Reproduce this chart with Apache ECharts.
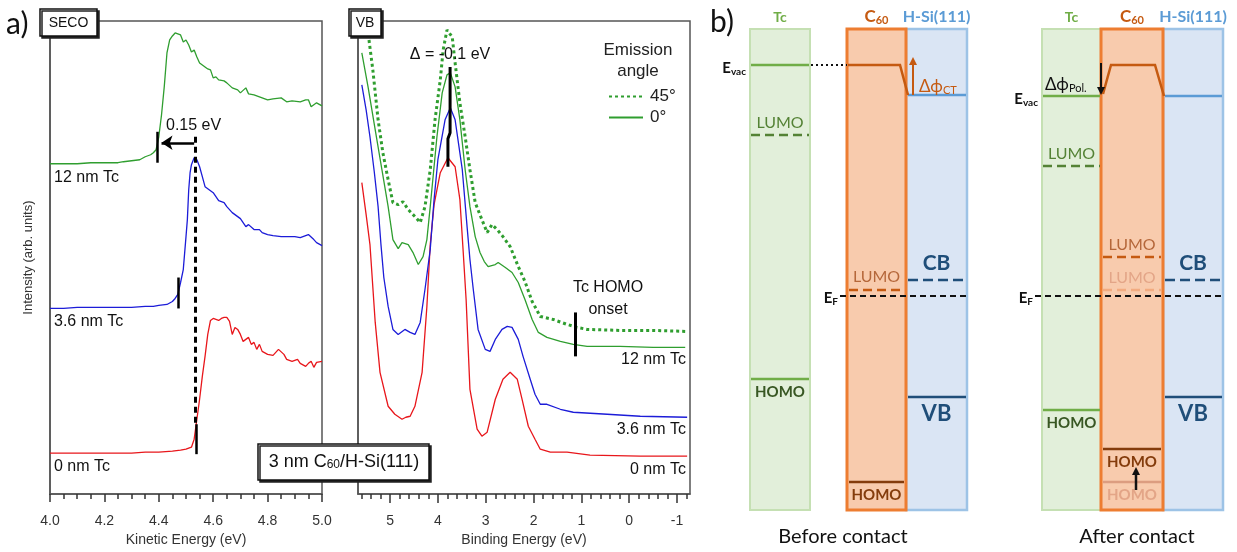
<!DOCTYPE html>
<html><head><meta charset="utf-8">
<script src="https://cdn.jsdelivr.net/npm/echarts@6/dist/echarts.min.js"></script>
<style>html,body{margin:0;padding:0;background:#fff}#c{width:1237px;height:552px}</style>
</head><body><div id="c"></div>
<script>
// ================= Panel a) SECO : [kinetic energy (eV), intensity (arb. units)]
const secoGreen12nm = [[4.00,331],[4.05,331],[4.10,331],[4.15,332],[4.20,332],[4.25,332],[4.27,333],[4.30,334],[4.33,335],[4.35,338],[4.37,340],[4.38,342],[4.39,345],[4.40,358],[4.41,380],[4.42,408],[4.43,442],[4.44,455],[4.45,459],[4.46,462],[4.47,461],[4.48,460],[4.49,453],[4.50,455],[4.51,450],[4.52,443],[4.53,445],[4.54,438],[4.55,432],[4.56,430],[4.57,428],[4.58,426],[4.59,425],[4.60,417],[4.61,418],[4.62,415],[4.64,414],[4.65,412],[4.67,407],[4.69,405],[4.70,402],[4.72,407],[4.73,401],[4.75,400],[4.77,398],[4.80,395],[4.82,396],[4.85,397],[4.87,393],[4.89,394],[4.92,393],[4.94,395],[4.95,395],[4.96,388],[4.98,392],[5.00,389]];
const secoBlue36nm = [[4.00,186],[4.05,186],[4.10,187],[4.15,187],[4.20,187],[4.25,187],[4.30,187],[4.35,188],[4.38,188],[4.40,189],[4.43,190],[4.45,193],[4.46,196],[4.47,200],[4.48,212],[4.49,225],[4.50,258],[4.505,275],[4.51,305],[4.515,322],[4.52,330],[4.53,337],[4.54,335],[4.55,328],[4.56,318],[4.57,308],[4.58,306],[4.60,302],[4.62,294],[4.64,292],[4.65,288],[4.67,282],[4.69,278],[4.70,276],[4.71,272],[4.72,268],[4.73,270],[4.75,265],[4.77,265],[4.78,262],[4.80,260],[4.82,259],[4.85,258],[4.88,258],[4.90,258],[4.92,257],[4.93,258],[4.95,260],[4.97,255],[4.98,252],[5.00,249]];
const secoRed0nm = [[4.00,41],[4.05,41],[4.10,41],[4.15,41],[4.20,41],[4.25,41],[4.30,41],[4.35,42],[4.40,42],[4.45,43],[4.48,44],[4.50,45],[4.52,47],[4.53,55],[4.54,75],[4.55,95],[4.56,118],[4.57,138],[4.58,160],[4.59,174],[4.60,176],[4.61,175],[4.62,174],[4.63,176],[4.64,177],[4.65,177],[4.66,173],[4.67,160],[4.68,167],[4.69,165],[4.70,160],[4.71,153],[4.72,155],[4.73,157],[4.74,150],[4.75,152],[4.76,145],[4.77,150],[4.78,143],[4.80,140],[4.82,139],[4.84,145],[4.86,140],[4.87,135],[4.89,133],[4.91,135],[4.92,131],[4.94,128],[4.95,131],[4.96,133],[4.97,127],[4.98,132],[5.00,133]];
// SECO onset markers (kinetic energy, eV)
const secoOnsetGreen = 4.395, secoOnsetBlue = 4.472, secoOnsetRed = 4.539;

// ================= Panel a) VB : [binding energy (eV), intensity (arb. units)]
const vbRed0nm = [[5.59,312],[5.50,280],[5.42,250],[5.31,172],[5.21,122],[5.04,88],[4.90,80],[4.75,75],[4.67,77],[4.58,78],[4.48,88],[4.33,122],[4.23,188],[4.16,250],[4.08,290],[3.95,322],[3.79,337],[3.64,328],[3.54,295],[3.47,242],[3.41,195],[3.33,105],[3.18,65],[3.08,58],[2.97,62],[2.80,95],[2.64,115],[2.49,122],[2.34,115],[2.24,95],[2.11,68],[1.97,55],[1.86,45],[1.65,42],[1.30,42],[0.82,39],[-0.23,38],[-1.21,38]];
const vbBlue36nm = [[5.59,410],[5.50,385],[5.42,358],[5.33,323],[5.25,288],[5.19,250],[5.13,217],[5.04,188],[4.94,165],[4.83,160],[4.69,165],[4.58,162],[4.48,160],[4.37,172],[4.27,205],[4.16,245],[4.08,295],[4.00,335],[3.85,375],[3.74,387],[3.64,375],[3.49,325],[3.39,268],[3.33,235],[3.26,205],[3.16,165],[3.01,145],[2.91,143],[2.80,155],[2.66,165],[2.55,168],[2.45,167],[2.32,155],[2.22,138],[2.07,115],[1.97,100],[1.86,90],[1.72,90],[1.44,85],[1.17,82],[0.46,80],[-0.23,78],[-1.21,77]];
const vbGreen12nm0deg = [[5.59,442],[5.46,408],[5.31,365],[5.17,325],[5.04,288],[4.94,255],[4.83,246],[4.75,252],[4.62,250],[4.52,242],[4.41,230],[4.31,238],[4.23,255],[4.16,288],[4.02,358],[3.91,402],[3.81,420],[3.74,422],[3.64,408],[3.54,375],[3.43,325],[3.33,288],[3.22,258],[3.12,242],[3.03,233],[2.95,228],[2.80,230],[2.74,232],[2.59,227],[2.45,222],[2.32,212],[2.18,195],[2.03,175],[1.90,162],[1.72,157],[1.44,153],[1.17,150],[0.88,148],[0.19,148],[-0.50,147],[-1.17,147]];
const vbGreen12nm45deg = [[5.44,455],[5.36,425],[5.25,375],[5.15,342],[5.04,315],[4.94,292],[4.83,290],[4.73,293],[4.62,285],[4.48,278],[4.37,272],[4.27,288],[4.16,325],[4.06,375],[3.95,415],[3.89,445],[3.81,465],[3.70,458],[3.64,432],[3.54,392],[3.43,358],[3.33,325],[3.22,292],[3.08,275],[2.97,262],[2.87,270],[2.76,265],[2.64,258],[2.49,248],[2.32,228],[2.18,213],[2.03,193],[1.86,178],[1.59,175],[1.30,170],[1.09,167],[0.88,165],[0.19,164],[-0.50,164],[-1.19,163]];
// peak-shift marker (Δ = -0.1 eV) and Tc HOMO onset
const vbShiftMarker = [[3.745,428],[3.745,362],[3.79,356],[3.79,328]];
const tcHomoOnset = 1.13;

// tick labels
const secoTickLabels = [4.0,4.2,4.4,4.6,4.8,5.0];
const vbTickLabels = [5,4,3,2,1,0,-1];
const vbMinorTicks = [];
for (let k = -12; k <= 56; k += 2) vbMinorTicks.push(k / 10);

// ================= Panel b) energy levels (eV, relative to E_F) : [E_vac, LUMO|CB, HOMO|VB]
const tcBefore  = [4.62, 3.22, -1.66];
const c60Before = [4.62, 0.12, -3.72];
const siBefore  = [4.02, 0.32, -2.02];
const tcAfter   = [4.00, 2.60, -2.28];
const c60After  = [4.62, 0.78, -3.06];
const siAfter   = [4.00, 0.32, -2.02];
const fermiLevel = 0;

// ---------------- layout (not data)
const eTop = 5.34, eBottom = -4.28;
const layoutB = {
  before: {tc:[50,110], c60:[147,206], si:[206,267], ef:140, caption:'Before contact'},
  after:  {tc:[342,401], c60:[401,463], si:[463,523], ef:335, caption:'After contact'}
};
const FA = 'Liberation Sans', FB = 'Lato';
const C = {
  tcFill:'#e2efda', tcStroke:'#c5e0b3', tcLine:'#70ad47', tcDark:'#548235', tcText:'#385723',
  c60Fill:'#f8cbad', c60Stroke:'#ed7d31', c60Line:'#c55a11', c60Dark:'#843c0c', c60Faded:'#e3a587',
  siFill:'#dae5f4', siStroke:'#9dc3e6', siLine:'#5b9bd5', siDark:'#1f4e79'
};

function makeDiagram(which) {
  const L = layoutB[which];
  const tc = which === 'before' ? tcBefore : tcAfter;
  const c6 = which === 'before' ? c60Before : c60After;
  const si = which === 'before' ? siBefore : siAfter;
  return function (params, api) {
    const P = (u, e) => api.coord([u, e]);
    const ch = [];
    const mid = r => (r[0] + r[1]) / 2;
    const rect = (r, fill, stroke, lw) => {
      const a = P(r[0], eTop), b = P(r[1], eBottom);
      ch.push({type:'rect', shape:{x:a[0], y:a[1], width:b[0]-a[0], height:b[1]-a[1]}, style:{fill, stroke, lineWidth:lw}});
    };
    const hline = (u0, u1, e, color, lw, dash) => {
      const a = P(u0, e), b = P(u1, e);
      ch.push({type:'line', shape:{x1:a[0], y1:a[1], x2:b[0], y2:b[1]}, style:{stroke:color, lineWidth:lw, lineDash:dash || null}});
    };
    const poly = (pts, color, lw) => ch.push({type:'polyline', shape:{points:pts.map(p => P(p[0], p[1]))}, style:{stroke:color, lineWidth:lw, fill:null}});
    const text = (u, e, dy, str, font, fill, align, rich) => {
      const a = P(u, e);
      ch.push({type:'text', x:a[0], y:a[1] + dy, style:{text:str, font, fill, align:align || 'center', verticalAlign:'middle', rich}});
    };
    const arrow = (u, e0, e1, color, lw) => {
      const a = P(u, e0), b = P(u, e1);
      const dir = b[1] > a[1] ? 1 : -1;
      ch.push({type:'line', shape:{x1:a[0], y1:a[1], x2:b[0], y2:b[1] - dir * 6}, style:{stroke:color, lineWidth:lw}});
      ch.push({type:'polygon', shape:{points:[[b[0], b[1]], [b[0]-4, b[1]-dir*8], [b[0]+4, b[1]-dir*8]]}, style:{fill:color}});
    };
    // columns
    rect(L.tc, C.tcFill, C.tcStroke, 2);
    rect(L.si, C.siFill, C.siStroke, 2.5);
    rect(L.c60, C.c60Fill, C.c60Stroke, 3);
    // headers
    text(mid(L.tc), eTop, -12, 'Tc', 'bold 14px ' + FB, C.tcLine);
    text(mid(L.c60), eTop, -12, '{a|C}{s|60}', 'bold 17px ' + FB, C.c60Line, 'center',
      {a:{fontSize:17, fontWeight:'bold', fontFamily:FB, fill:C.c60Line}, s:{fontSize:11, fontWeight:'bold', fontFamily:FB, fill:C.c60Line, verticalAlign:'bottom', padding:[6,0,0,0]}});
    text(mid(L.si), eTop, -12, 'H-Si(111)', 'bold 16px ' + FB, C.siLine);
    // Tc levels
    hline(L.tc[0]+1, L.tc[1]-1, tc[0], C.tcLine, 2.5);
    hline(L.tc[0]+1, L.tc[1]-1, tc[1], C.tcDark, 2.5, [9,5]);
    text(mid(L.tc), tc[1], -12, 'LUMO', '16px ' + FB, C.tcDark);
    hline(L.tc[0]+1, L.tc[1]-1, tc[2], C.tcLine, 2.5);
    text(mid(L.tc), tc[2], 13, 'HOMO', 'bold 15px ' + FB, C.tcText);
    // E_vac label
    const evRich = {a:{fontSize:15, fontWeight:'bold', fontFamily:FB, fill:'#111'}, s:{fontSize:10, fontWeight:'bold', fontFamily:FB, fill:'#111', verticalAlign:'bottom', padding:[7,0,0,0]}};
    text(L.tc[0]-4, tc[0], 3, '{a|E}{s|vac}', 'bold 15px ' + FB, '#111', 'right', evRich);
    // Si levels
    hline(L.si[0]+2, L.si[1]-1, si[0], C.siLine, 2.5);
    hline(L.si[0]+2, L.si[1]-1, si[1], C.siDark, 2.5, [10,5]);
    text(mid(L.si), si[1], -17, 'CB', 'bold 21px ' + FB, C.siDark);
    hline(L.si[0]+2, L.si[1]-1, si[2], C.siDark, 2.5);
    text(mid(L.si), si[2], 17, 'VB', 'bold 22px ' + FB, C.siDark);
    // Fermi level
    hline(L.ef, L.si[1]-1, fermiLevel, '#111', 2, [6,4]);
    text(L.ef - 2, fermiLevel, 2, '{a|E}{s|F}', 'bold 15px ' + FB, '#111', 'right', evRich);
    if (which === 'before') {
      hline(L.tc[1]+1, L.c60[0], tc[0], '#111', 2, [2,3]);
      poly([[L.c60[0]+1, c6[0]], [L.c60[1]-6, c6[0]], [L.si[0]+2, si[0]]], C.c60Line, 2.5);
      arrow(L.si[0]+7, si[0], si[0] + 0.76, C.c60Line, 2);
      text(L.si[0]+13, si[0], -8, '{a|Δϕ}{s|CT}', '17px ' + FB, C.c60Line, 'left',
        {a:{fontSize:17, fontFamily:FB, fill:C.c60Line}, s:{fontSize:11, fontFamily:FB, fill:C.c60Line, verticalAlign:'bottom', padding:[6,0,0,0]}});
      hline(L.c60[0]+2, L.c60[1]-2, c6[1], C.c60Line, 2.5, [9,5]);
      text(mid(L.c60), c6[1], -13, 'LUMO', '16px ' + FB, '#b5673a');
      hline(L.c60[0]+2, L.c60[1]-2, c6[2], C.c60Dark, 2.5);
      text(mid(L.c60), c6[2], 13, 'HOMO', 'bold 15px ' + FB, C.c60Dark);
    } else {
      // faded (pre-contact) C60 levels
      hline(L.c60[0]+2, L.c60[1]-2, c60Before[1], '#f2ab80', 2.5, [9,5]);
      text(mid(L.c60), c60Before[1], -12, 'LUMO', '16px ' + FB, C.c60Faded);
      hline(L.c60[0]+2, L.c60[1]-2, c60Before[2], '#dc9d80', 2.5);
      text(mid(L.c60), c60Before[2], 13, 'HOMO', 'bold 15px ' + FB, C.c60Faded);
      poly([[L.c60[0]+2, tc[0]+0.04], [L.c60[0]+10, c6[0]], [L.c60[1]-8, c6[0]], [L.c60[1]+1, si[0]]], C.c60Line, 2.5);
      arrow(L.tc[1], c6[0] + 0.04, tc[0] + 0.02, '#111', 2);
      text(L.tc[0]+3, tc[0], -11, '{a|Δϕ}{s|Pol.}', '17px ' + FB, '#111', 'left',
        {a:{fontSize:17, fontFamily:FB, fill:'#111'}, s:{fontSize:11, fontFamily:FB, fill:'#111', verticalAlign:'bottom', padding:[6,0,0,0]}});
      hline(L.c60[0]+2, L.c60[1]-2, c6[1], C.c60Line, 2.5, [9,5]);
      text(mid(L.c60), c6[1], -12, 'LUMO', '16px ' + FB, '#b5673a');
      hline(L.c60[0]+2, L.c60[1]-2, c6[2], C.c60Dark, 2.5);
      text(mid(L.c60), c6[2], 13, 'HOMO', 'bold 15px ' + FB, C.c60Dark);
      arrow(mid(L.c60)+4, c60Before[2] - 0.16, c6[2] - 0.36, '#111', 2.5);
    }
    // caption
    text(which === 'before' ? 143 : 437, eBottom, 27, L.caption, '20px ' + FB, '#111');
    return {type:'group', children:ch};
  };
}

const axisGray = '#555';
const tickStyle = {color:'#333', width:1.5};
const noAxis = {show:false};

const option = {
  animation:false,
  backgroundColor:'#fff',
  textStyle:{fontFamily:FA},
  grid:[
    {left:50, top:21, width:272, height:474, show:true, borderColor:axisGray, borderWidth:1.5, backgroundColor:'transparent'},
    {left:358, top:21, width:332, height:474, show:true, borderColor:axisGray, borderWidth:1.5, backgroundColor:'transparent'},
    {left:700, top:29, width:537, height:481, show:false}
  ],
  legend:{
    data:['45°','0°'], orient:'vertical', left:603, top:83, itemWidth:34, itemHeight:12, itemGap:4,
    selectedMode:false, itemStyle:{opacity:0, borderWidth:0},
    textStyle:{fontSize:17, color:'#222', fontFamily:FA, padding:[0,0,0,2]}
  },
  xAxis:[
    {gridIndex:0, type:'value', min:4, max:5, interval:0.2, position:'bottom',
      axisLine:{show:true, onZero:false, lineStyle:{color:axisGray, width:1.5}},
      axisTick:{show:true, length:8, lineStyle:tickStyle},
      minorTick:{show:true, splitNumber:4, length:5, lineStyle:tickStyle},
      axisLabel:{fontSize:14, color:'#333', margin:20, fontFamily:FA, customValues:secoTickLabels, formatter:v => v.toFixed(1)},
      splitLine:{show:false}, minorSplitLine:{show:false},
      name:'Kinetic Energy (eV)', nameLocation:'middle', nameGap:38, nameTextStyle:{fontSize:14, color:'#333', fontFamily:FA}},
    {gridIndex:1, type:'value', min:-1.27, max:5.67, inverse:true, position:'bottom',
      axisLine:{show:true, onZero:false, lineStyle:{color:axisGray, width:1.5}},
      axisTick:{show:true, length:9, customValues:vbTickLabels, lineStyle:tickStyle},
      axisLabel:{fontSize:14, color:'#333', margin:20, fontFamily:FA, customValues:vbTickLabels, formatter:v => String(v)},
      splitLine:{show:false},
      name:'Binding Energy (eV)', nameLocation:'middle', nameGap:38, nameTextStyle:{fontSize:14, color:'#333', fontFamily:FA}},
    {gridIndex:1, type:'value', min:-1.27, max:5.67, inverse:true, position:'bottom',
      axisLine:{show:false, onZero:false},
      axisTick:{show:true, length:5, customValues:vbMinorTicks, lineStyle:tickStyle},
      axisLabel:{show:false}, splitLine:{show:false}},
    {gridIndex:2, type:'value', min:0, max:537, show:false}
  ],
  yAxis:[
    {gridIndex:0, type:'value', min:0, max:474,
      axisLine:{show:true, onZero:false, lineStyle:{color:axisGray, width:1.5}},
      axisTick:noAxis, axisLabel:noAxis, splitLine:noAxis,
      name:'Intensity (arb. units)', nameLocation:'middle', nameGap:15, nameRotate:90,
      nameTextStyle:{fontSize:13, color:'#333', fontFamily:FA}},
    {gridIndex:1, type:'value', min:0, max:474,
      axisLine:{show:true, onZero:false, lineStyle:{color:axisGray, width:1.5}},
      axisTick:noAxis, axisLabel:noAxis, splitLine:noAxis},
    {gridIndex:2, type:'value', min:eBottom, max:eTop, show:false}
  ],
  series:[
    {name:'SECO 12 nm Tc', type:'line', xAxisIndex:0, yAxisIndex:0, data:secoGreen12nm, symbol:'none',
      lineStyle:{color:'#2f9e2f', width:1.3}, itemStyle:{color:'#2f9e2f'},
      markLine:{silent:true, symbol:'none', label:{show:false}, lineStyle:{color:'#000', width:2.5, type:'solid'},
        data:[[{coord:[secoOnsetGreen,332]},{coord:[secoOnsetGreen,363]}]]}},
    {name:'SECO 3.6 nm Tc', type:'line', xAxisIndex:0, yAxisIndex:0, data:secoBlue36nm, symbol:'none',
      lineStyle:{color:'#1c1cd8', width:1.3}, itemStyle:{color:'#1c1cd8'},
      markLine:{silent:true, symbol:'none', label:{show:false}, lineStyle:{color:'#000', width:2.5, type:'solid'},
        data:[
          [{coord:[secoOnsetBlue,186]},{coord:[secoOnsetBlue,217]}],
          [{coord:[4.53,352], symbol:'none'},{coord:[4.41,352], symbol:'arrow', symbolSize:11}]
        ]}},
    {name:'SECO 0 nm Tc', type:'line', xAxisIndex:0, yAxisIndex:0, data:secoRed0nm, symbol:'none',
      lineStyle:{color:'#e8161b', width:1.3}, itemStyle:{color:'#e8161b'},
      markLine:{silent:true, symbol:'none', label:{show:false}, lineStyle:{color:'#000', width:2.5, type:'solid'},
        data:[
          [{coord:[secoOnsetRed,40]},{coord:[secoOnsetRed,70]}],
          [{coord:[4.535,358], lineStyle:{type:[6,4], width:3, color:'#000'}},{coord:[4.535,70]}]
        ]}},
    {name:'VB 0 nm Tc', type:'line', xAxisIndex:1, yAxisIndex:1, data:vbRed0nm, symbol:'none',
      lineStyle:{color:'#e8161b', width:1.3}, itemStyle:{color:'#e8161b'}},
    {name:'VB 3.6 nm Tc', type:'line', xAxisIndex:1, yAxisIndex:1, data:vbBlue36nm, symbol:'none',
      lineStyle:{color:'#1c1cd8', width:1.3}, itemStyle:{color:'#1c1cd8'}},
    {name:'45°', type:'line', xAxisIndex:1, yAxisIndex:1, data:vbGreen12nm45deg, symbol:'none',
      lineStyle:{color:'#2f9e2f', width:3, type:[3,3]}, itemStyle:{color:'#2f9e2f'}},
    {name:'0°', type:'line', xAxisIndex:1, yAxisIndex:1, data:vbGreen12nm0deg, symbol:'none',
      lineStyle:{color:'#2f9e2f', width:1.3}, itemStyle:{color:'#2f9e2f'},
      markLine:{silent:true, symbol:'none', label:{show:false}, lineStyle:{color:'#000', width:3, type:'solid'},
        data:[[{coord:[tcHomoOnset,138]},{coord:[tcHomoOnset,182]}]]}},
    {name:'Δ shift', type:'line', xAxisIndex:1, yAxisIndex:1, data:vbShiftMarker, symbol:'none', z:5,
      lineStyle:{color:'#000', width:3}, itemStyle:{color:'#000'}},
    {name:'before', type:'custom', xAxisIndex:3, yAxisIndex:2, data:[[0]], silent:true, renderItem:makeDiagram('before')},
    {name:'after', type:'custom', xAxisIndex:3, yAxisIndex:2, data:[[0]], silent:true, renderItem:makeDiagram('after')}
  ],
  graphic:{elements:[
    {type:'text', x:6, y:24, z:100, style:{text:'a)', font:'30px ' + FB, fill:'#111', verticalAlign:'middle'}},
    {type:'text', x:710, y:22, z:100, style:{text:'b)', font:'30px ' + FB, fill:'#111', verticalAlign:'middle'}},
    {type:'rect', z:100, shape:{x:40, y:9, width:57, height:27}, style:{fill:'#fff', stroke:'#111', lineWidth:1.5, shadowColor:'#222', shadowOffsetX:2, shadowOffsetY:2}},
    {type:'text', z:101, x:68.5, y:23, style:{text:'SECO', font:'14px ' + FA, fill:'#111', align:'center', verticalAlign:'middle'}},
    {type:'rect', z:100, shape:{x:349, y:9, width:32, height:27}, style:{fill:'#fff', stroke:'#111', lineWidth:1.5, shadowColor:'#222', shadowOffsetX:2, shadowOffsetY:2}},
    {type:'text', z:101, x:365, y:23, style:{text:'VB', font:'14px ' + FA, fill:'#111', align:'center', verticalAlign:'middle'}},
    {type:'rect', z:100, shape:{x:258, y:444, width:171, height:36}, style:{fill:'#fff', stroke:'#111', lineWidth:1.5, shadowColor:'#222', shadowOffsetX:2, shadowOffsetY:2}},
    {type:'text', z:101, x:344, y:462, style:{text:'{a|3 nm C}{s|60}{a|/H-Si(111)}', align:'center', verticalAlign:'middle',
      rich:{a:{fontSize:18, fontFamily:FA, fill:'#111'}, s:{fontSize:12, fontFamily:FA, fill:'#111', verticalAlign:'bottom', padding:[6,0,0,0]}}}},
    {type:'text', z:100, x:166, y:126, style:{text:'0.15 eV', font:'16px ' + FA, fill:'#111', verticalAlign:'middle'}},
    {type:'text', z:100, x:54, y:178, style:{text:'12 nm Tc', font:'16px ' + FA, fill:'#111', verticalAlign:'middle'}},
    {type:'text', z:100, x:54, y:322, style:{text:'3.6 nm Tc', font:'16px ' + FA, fill:'#111', verticalAlign:'middle'}},
    {type:'text', z:100, x:54, y:467, style:{text:'0 nm Tc', font:'16px ' + FA, fill:'#111', verticalAlign:'middle'}},
    {type:'text', z:100, x:450, y:55, style:{text:'Δ = -0.1 eV', font:'16px ' + FA, fill:'#111', align:'center', verticalAlign:'middle'}},
    {type:'text', z:100, x:638, y:50, style:{text:'Emission', font:'17px ' + FA, fill:'#222', align:'center', verticalAlign:'middle'}},
    {type:'text', z:100, x:638, y:71, style:{text:'angle', font:'17px ' + FA, fill:'#222', align:'center', verticalAlign:'middle'}},
    {type:'text', z:100, x:608, y:288, style:{text:'Tc HOMO', font:'16px ' + FA, fill:'#111', align:'center', verticalAlign:'middle'}},
    {type:'text', z:100, x:608, y:310, style:{text:'onset', font:'16px ' + FA, fill:'#111', align:'center', verticalAlign:'middle'}},
    {type:'text', z:100, x:686, y:360, style:{text:'12 nm Tc', font:'16px ' + FA, fill:'#111', align:'right', verticalAlign:'middle'}},
    {type:'text', z:100, x:686, y:430, style:{text:'3.6 nm Tc', font:'16px ' + FA, fill:'#111', align:'right', verticalAlign:'middle'}},
    {type:'text', z:100, x:686, y:470, style:{text:'0 nm Tc', font:'16px ' + FA, fill:'#111', align:'right', verticalAlign:'middle'}}
  ]}
};
const chart = echarts.init(document.getElementById('c'), null, {renderer:'canvas'});
chart.setOption(option);
</script></body></html>
